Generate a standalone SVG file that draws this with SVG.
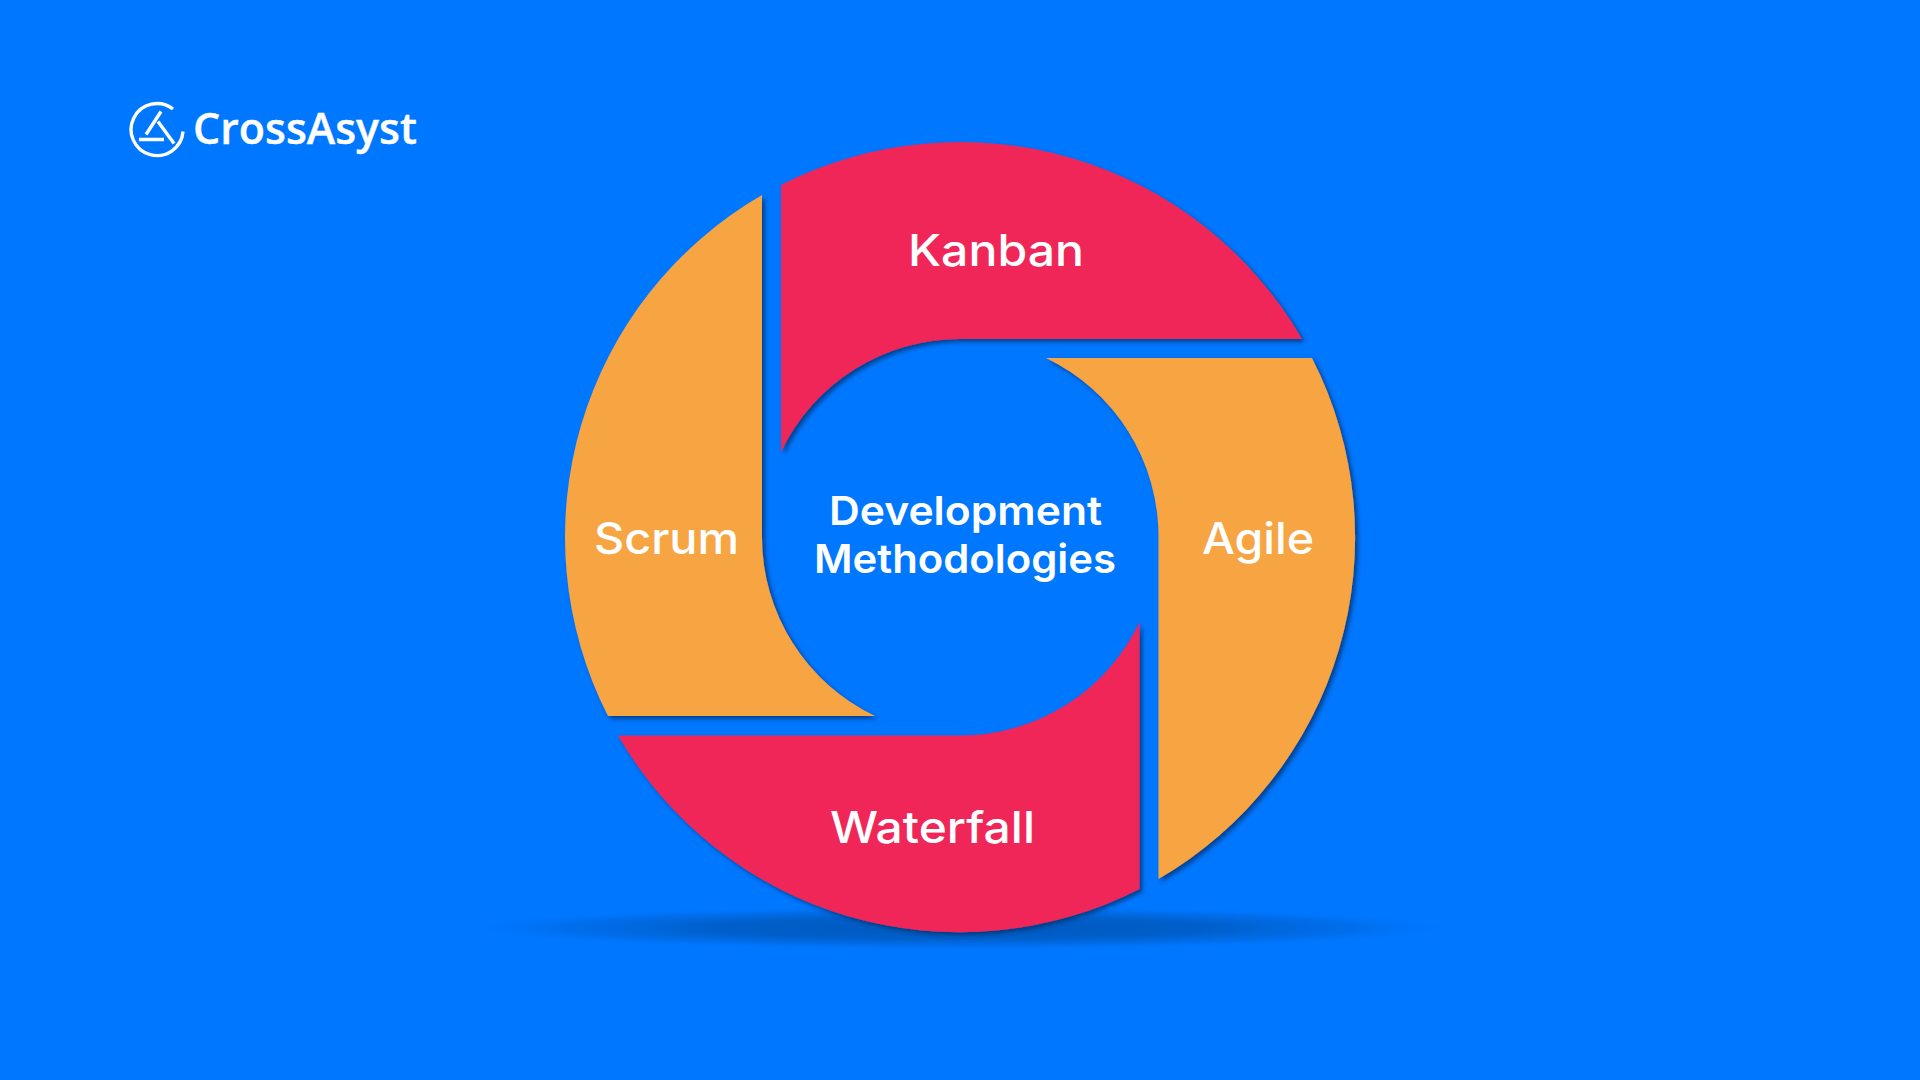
<svg xmlns="http://www.w3.org/2000/svg" width="1920" height="1080" viewBox="0 0 1920 1080">
  <style>
    .lbl{font-family:"Inter","Noto Sans",sans-serif;font-weight:500;fill:#fff;font-size:44px}
    .ctr{font-family:"Inter","Noto Sans",sans-serif;font-weight:600;fill:#fff;font-size:40px}
    .logo{font-family:"Open Sans","Noto Sans",sans-serif;font-weight:600;fill:#fff;font-size:43px;stroke:#fff;stroke-width:.4}
    .red{fill:#F02658;filter:url(#sh)}
    .org{fill:#F6A543;filter:url(#sh)}
    .ic{fill:none;stroke:#fff;stroke-width:3.4}
  </style>
  <defs>
    <filter id="sh" x="-5%" y="-5%" width="110%" height="110%">
      <feDropShadow dx="3" dy="3" stdDeviation="2" flood-color="#00306e" flood-opacity="0.75"/>
    </filter>
    <radialGradient id="gs">
      <stop offset="0" stop-color="#0059BE"/>
      <stop offset="0.5" stop-color="#005CC4" stop-opacity="0.9"/>
      <stop offset="0.8" stop-color="#0066DA" stop-opacity="0.5"/>
      <stop offset="1" stop-color="#0076FF" stop-opacity="0"/>
    </radialGradient>
  </defs>
  <rect width="1920" height="1080" fill="#0077FF"/>
  <ellipse cx="960" cy="928" rx="500" ry="22" fill="url(#gs)"/>
  <g id="logo">
    <path class="ic" d="M173 109A26 26 0 1 0 183 131.500"/>
    <path class="ic" d="M161 111.500L146 134.500M158 121.500L174 143.500M139 139.500H164"/>
    <text class="logo" x="193" y="144" textLength="224" lengthAdjust="spacingAndGlyphs">CrossAsyst</text>
  </g>
  <g id="kanban">
    <path class="red" d="M781 185A395 395 0 0 1 1302 339H960A198 198 0 0 0 781 452Z"/>
    <text class="lbl" x="908" y="266" textLength="176" lengthAdjust="spacingAndGlyphs">Kanban</text>
  </g>
  <g id="agile">
    <path class="org" d="M1312 358A395 395 0 0 1 1158.500 879V537A198 198 0 0 0 1046 358Z"/>
    <text class="lbl" x="1202" y="554" textLength="112" lengthAdjust="spacingAndGlyphs">Agile</text>
  </g>
  <g id="waterfall">
    <path class="red" d="M1139.500 889A395 395 0 0 1 618 735.500H960A198 198 0 0 0 1139.500 622Z"/>
    <text class="lbl" x="830" y="843" textLength="205" lengthAdjust="spacingAndGlyphs">Waterfall</text>
  </g>
  <g id="scrum">
    <path class="org" d="M608 716A395 395 0 0 1 762 195V537A198 198 0 0 0 875 716Z"/>
    <text class="lbl" x="594" y="554" textLength="145" lengthAdjust="spacingAndGlyphs">Scrum</text>
  </g>
  <g id="center">
    <text class="ctr" x="829" y="525" textLength="273" lengthAdjust="spacingAndGlyphs">Development</text>
    <text class="ctr" x="814" y="573" textLength="302" lengthAdjust="spacingAndGlyphs">Methodologies</text>
  </g>
</svg>
